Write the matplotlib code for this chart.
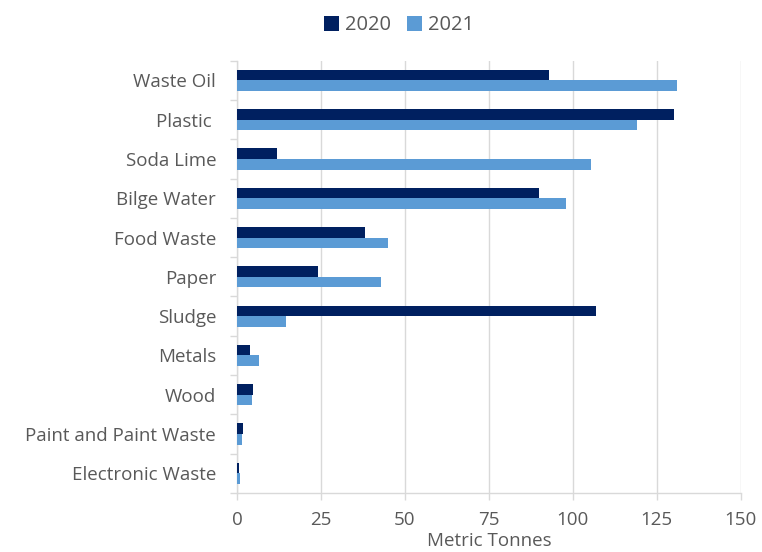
import matplotlib
matplotlib.use("Agg")
import matplotlib.pyplot as plt
import numpy as np

# data
categories = ["Waste Oil", "Plastic ", "Soda Lime", "Bilge Water", "Food Waste",
              "Paper", "Sludge", "Metals", "Wood", "Paint and Paint Waste",
              "Electronic Waste"]
values_2020 = [93, 130, 12, 90, 38, 24, 107, 3.8, 4.8, 1.8, 0.7]
values_2021 = [131, 119, 105.3, 98, 45, 43, 14.6, 6.6, 4.4, 1.5, 1.0]
x_ticks = [0, 25, 50, 75, 100, 125, 150]

plt.rcParams['font.family'] = ['Open Sans', 'DejaVu Sans']
text_color = "#595959"
grid_color = "#d9d9d9"
fs = 13.5

fig = plt.figure(figsize=(7.62, 5.52), dpi=100)
ax = fig.add_axes([0.311, 0.107, 0.661, 0.783])

y = np.arange(len(categories))
h = 0.27
ax.barh(y - h / 2, values_2020, height=h, color="#002060", label="2020", zorder=3)
ax.barh(y + h / 2, values_2021, height=h, color="#5B9BD5", label="2021", zorder=3)

ax.set_ylim(len(categories) - 0.5, -0.5)
ax.set_xlim(0, 150)
ax.set_xticks(x_ticks)
ax.set_xticklabels([str(t) for t in x_ticks], fontsize=fs, color=text_color)
ax.set_yticks(y)
ax.set_yticklabels(categories, fontsize=fs, color=text_color)
ax.tick_params(axis='y', length=0, pad=15)
ax.set_yticks(np.arange(len(categories) + 1) - 0.5, minor=True)
ax.tick_params(axis='y', which='minor', length=5, color=grid_color, width=1)
ax.tick_params(axis='x', length=5, color=grid_color, width=1, pad=8)

ax.grid(axis='x', color=grid_color, linewidth=1, zorder=0)
for side in ['top', 'right']:
    ax.spines[side].set_visible(False)
for side in ['left', 'bottom']:
    ax.spines[side].set_color(grid_color)
    ax.spines[side].set_linewidth(1)

ax.set_xlabel("Metric Tonnes", fontsize=fs, color=text_color, labelpad=2)

leg = fig.legend(loc='upper center', bbox_to_anchor=(0.524, 1.005), ncol=2, frameon=False,
                 fontsize=14.5, handlelength=0.75, handleheight=0.75, columnspacing=0.8,
                 handletextpad=0.3)
for t in leg.get_texts():
    t.set_color(text_color)

fig.savefig("out.png", dpi=100)
